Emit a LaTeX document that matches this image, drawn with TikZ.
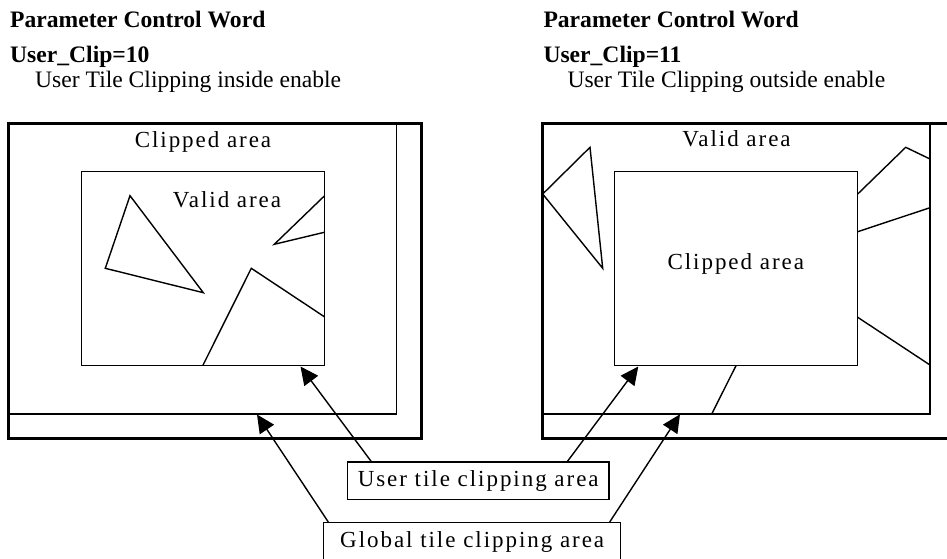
\documentclass[tikz,border=0pt]{standalone}
\usepackage{fontspec}
\setmainfont{Liberation Serif}
\newfontfamily\lblfont[LetterSpace=8.5]{Liberation Serif}
\usetikzlibrary{arrows.meta}
\tikzset{
  thin line/.style={line width=1.4pt},
  thick frame/.style={line width=3.2pt},
  head/.style={anchor=base west, inner sep=0pt, font=\fontsize{23.6}{28}\selectfont\bfseries},
  subhead/.style={anchor=base west, inner sep=0pt, font=\fontsize{23.6}{28}\selectfont},
  arealabel/.style={anchor=base, inner sep=0pt, font=\lblfont\fontsize{23}{27}\selectfont},
  boxlabel/.style={draw, line width=1.4pt, inner sep=0pt, font=\lblfont\fontsize{23}{27}\selectfont},
  pointer/.style={line width=1.4pt, -{Triangle[length=18pt,width=17pt]}}
}
\begin{document}
\begin{tikzpicture}[x=1pt,y=-1pt]
\useasboundingbox (0,0) rectangle (947,559);
\clip (0,0) rectangle (947,559);
% headers
\node[head] (h1) at (10,27.7) {Parameter Control Word};
\node[head] (h2) at (10,62.7) {User\_Clip=10};
\node[subhead] (h3) at (35,87.5) {User Tile Clipping inside enable};
\node[head] (h4) at (543.3,27.7) {Parameter Control Word};
\node[head] (h5) at (543.3,62.7) {User\_Clip=11};
\node[subhead] (h6) at (567.3,87.5) {User Tile Clipping outside enable};
% left diagram
\draw[thick frame] (8.8,123.5) rectangle (421.2,438.3);
\draw[thin line] (8.8,414) -- (396.7,414) -- (396.7,123.5);
\draw[thin line] (81.3,171.7) rectangle (324.3,365.7);
\draw[thin line, line join=miter] (130,195.7) -- (105.3,268.3) -- (203.3,292.7) -- cycle;
\draw[thin line] (324.3,196) -- (274.3,244.3) -- (324.3,232.3);
\draw[thin line] (202.7,365.7) -- (251.3,268.3) -- (324.3,316.7);
\node[arealabel] (lclip) at (203,147.3) {Clipped area};
\node[arealabel] (lvalid) at (227,207.7) {Valid area};
\coordinate (luser) at (300.5,366.5);
\coordinate (lglob) at (257,414.5);
% right diagram
\draw[thick frame] (542.2,123.5) rectangle (965,438.3);
\draw[thin line] (542.2,414) -- (930,414) -- (930,123.5);
\draw[thin line] (614.7,171.7) rectangle (857.7,365.7);
\draw[thin line] (590,147.3) -- (542.7,194) -- (602.7,268.3) -- cycle;
\draw[thin line] (857.7,194) -- (905.7,147.3) -- (930,159);
\draw[thin line] (857.7,231.7) -- (930,207.7);
\draw[thin line] (857.7,317.3) -- (930,365);
\draw[thin line] (736,365.7) -- (711.7,414);
\node[arealabel] (rvalid) at (736.5,146.7) {Valid area};
\node[arealabel] (rclip) at (735.8,269) {Clipped area};
\coordinate (ruser) at (638.3,366.5);
\coordinate (rglob) at (680,414.3);
% callout labels
\node[boxlabel, minimum width=261.7pt, minimum height=37.7pt] (ulab) at (478.2,480.9) {User tile clipping area};
\node[boxlabel, minimum width=297pt, minimum height=38pt] (glab) at (472.2,541.7) {Global tile clipping area};
\draw[pointer] ([xshift=24.5pt]ulab.north west) -- (luser);
\draw[pointer] ([xshift=-42.3pt]ulab.north east) -- (ruser);
\draw[pointer] ([xshift=5.3pt]glab.north west) -- (lglob);
\draw[pointer] ([xshift=-11.7pt]glab.north east) -- (rglob);
\end{tikzpicture}
\end{document}
